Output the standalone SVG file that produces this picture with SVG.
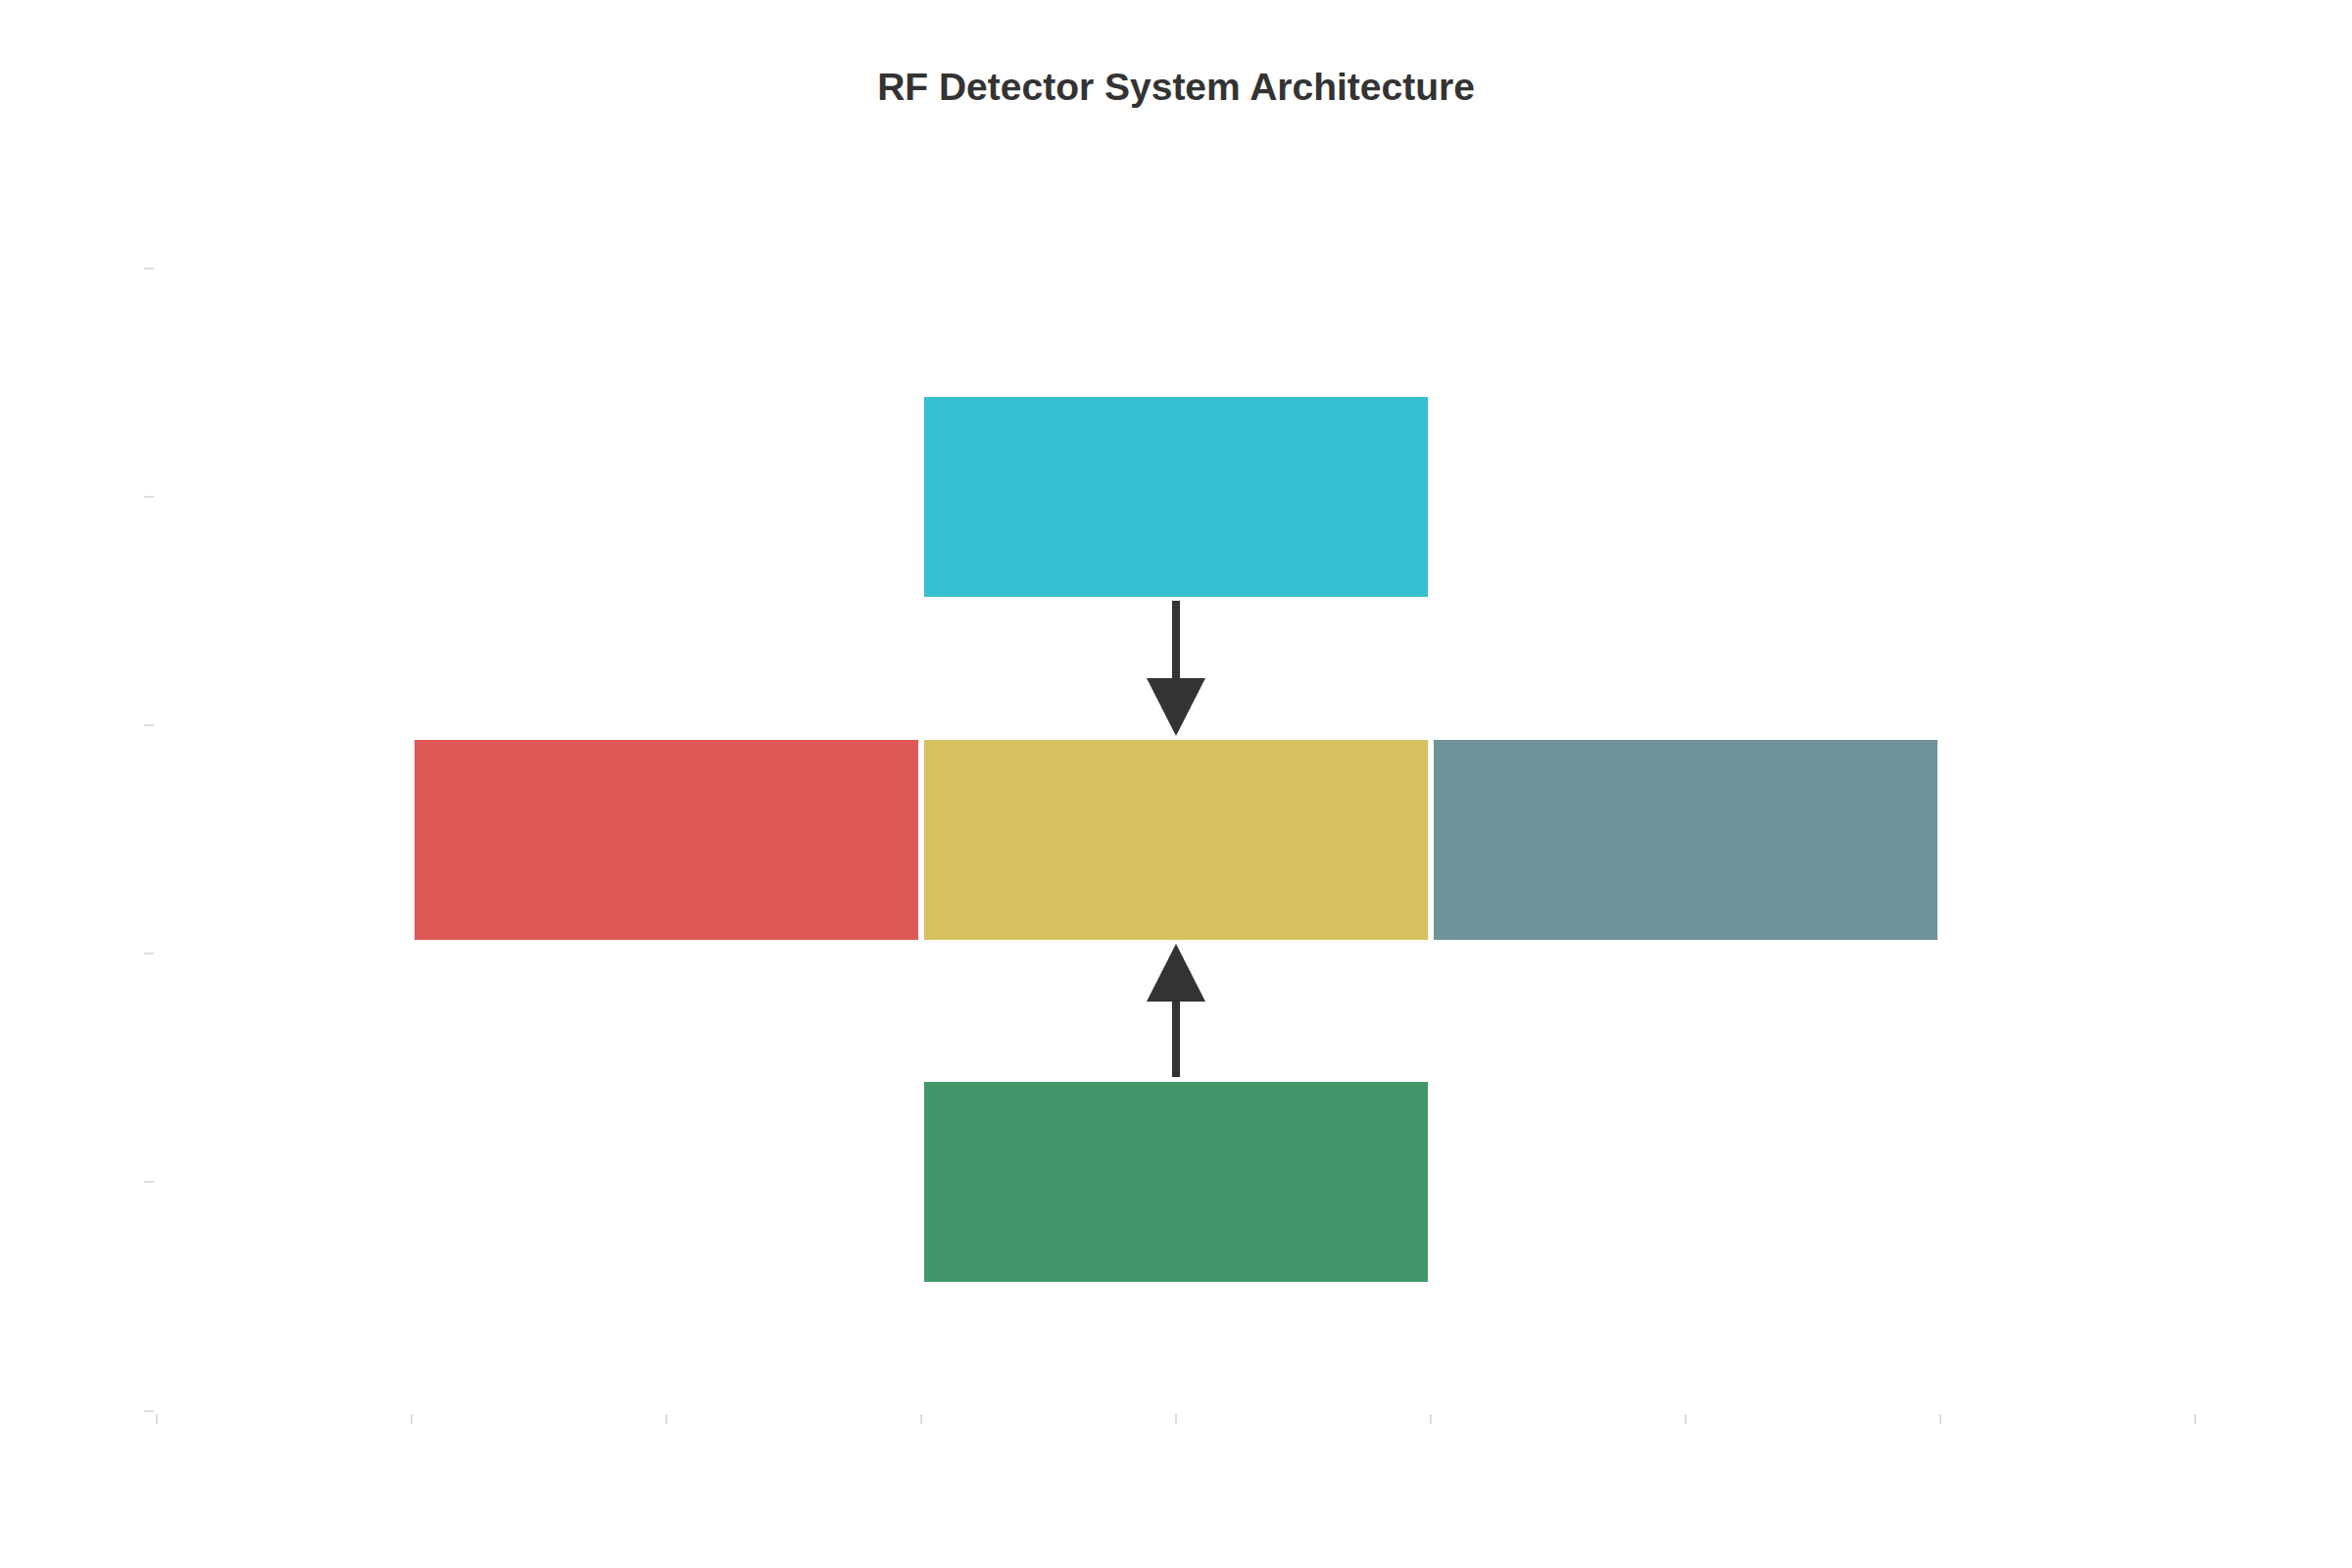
<svg xmlns="http://www.w3.org/2000/svg" width="2400" height="1600" viewBox="0 0 2400 1600">
  <style>
    .title { font-family: "Liberation Sans", Arial, sans-serif; font-size: 39px; font-weight: bold; fill: #333333; }
    .tick { stroke: #dddddd; stroke-width: 2; fill: none; }
    .node { stroke: none; }
    .conn { stroke: #333333; stroke-width: 8; fill: none; }
    .head { fill: #333333; }
  </style>
  <rect x="0" y="0" width="2400" height="1600" fill="#ffffff"/>
  <text class="title" x="1200" y="102" text-anchor="middle">RF Detector System Architecture</text>
  <g id="axes">
    <line class="tick" x1="147" y1="274" x2="157" y2="274"/>
    <line class="tick" x1="147" y1="507" x2="157" y2="507"/>
    <line class="tick" x1="147" y1="740" x2="157" y2="740"/>
    <line class="tick" x1="147" y1="973" x2="157" y2="973"/>
    <line class="tick" x1="147" y1="1206" x2="157" y2="1206"/>
    <line class="tick" x1="147" y1="1440" x2="157" y2="1440"/>
    <line class="tick" x1="160" y1="1443" x2="160" y2="1453"/>
    <line class="tick" x1="420" y1="1443" x2="420" y2="1453"/>
    <line class="tick" x1="680" y1="1443" x2="680" y2="1453"/>
    <line class="tick" x1="940" y1="1443" x2="940" y2="1453"/>
    <line class="tick" x1="1200" y1="1443" x2="1200" y2="1453"/>
    <line class="tick" x1="1460" y1="1443" x2="1460" y2="1453"/>
    <line class="tick" x1="1720" y1="1443" x2="1720" y2="1453"/>
    <line class="tick" x1="1980" y1="1443" x2="1980" y2="1453"/>
    <line class="tick" x1="2240" y1="1443" x2="2240" y2="1453"/>
  </g>
  <g id="node-top"><rect class="node" x="943" y="405" width="514" height="204" fill="#35bfd1"/></g>
  <g id="node-left"><rect class="node" x="423" y="755" width="514" height="204" fill="#df5858"/></g>
  <g id="node-center"><rect class="node" x="943" y="755" width="514" height="204" fill="#d7c15f"/></g>
  <g id="node-right"><rect class="node" x="1463" y="755" width="514" height="204" fill="#6e9399"/></g>
  <g id="node-bottom"><rect class="node" x="943" y="1104" width="514" height="204" fill="#43966a"/></g>
  <g id="connectors">
    <line class="conn" x1="1200" y1="613" x2="1200" y2="700"/>
    <polygon class="head" points="1170,692 1230,692 1200,751"/>
    <line class="conn" x1="1200" y1="1099" x2="1200" y2="1015"/>
    <polygon class="head" points="1170,1022 1230,1022 1200,963"/>
  </g>
</svg>
